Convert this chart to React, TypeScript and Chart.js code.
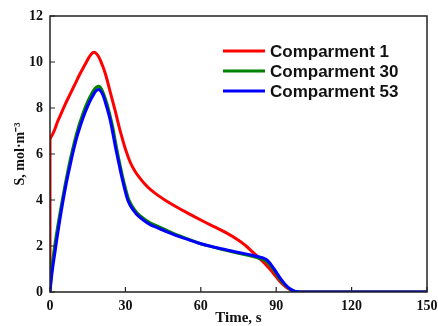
import React, { useEffect, useRef } from "react";
import { Chart, registerables } from "chart.js";

Chart.register(...registerables);

// ---- Data ----
const xTicks = [0, 30, 60, 90, 120, 150];
const yTicks = [0, 2, 4, 6, 8, 10, 12];

const seriesLabels = ["Comparment 1", "Comparment 30", "Comparment 53"];
const seriesColors = ["#ff0000", "#008000", "#0000ff"];

const tRed = [0, 0, 1, 2, 3, 4, 6, 8, 10, 12, 14, 15.5, 16.5, 17.5, 18.5, 19.5, 20.5, 22, 24, 26, 28, 30, 32, 34, 36, 38, 40, 43, 46, 50, 55, 60, 65, 70, 75, 78, 80, 82, 84, 86, 88, 90, 92, 94, 96, 98, 100, 125, 150];
const sRed = [0, 6.6, 6.85, 7.1, 7.4, 7.65, 8.15, 8.6, 9.05, 9.5, 9.9, 10.2, 10.35, 10.42, 10.36, 10.2, 9.95, 9.5, 8.68, 7.85, 6.97, 6.22, 5.62, 5.22, 4.92, 4.66, 4.45, 4.2, 3.98, 3.72, 3.42, 3.13, 2.85, 2.58, 2.25, 2.0, 1.8, 1.6, 1.4, 1.18, 0.93, 0.66, 0.4, 0.2, 0.07, 0.01, 0, 0, 0];

const tGreen = [0, 0.5, 1, 2, 3, 4, 5, 6, 7, 8, 9, 10, 11, 12, 13, 14, 15, 16, 17, 18, 19, 20, 21, 22, 23, 24, 25, 26, 27, 28, 29, 30, 31, 32, 33, 34, 35, 37, 40, 43, 46, 50, 55, 60, 65, 70, 75, 80, 83, 85, 86.5, 88, 89.5, 91, 92.5, 94, 95.5, 97, 98.5, 100, 125, 150];
const sGreen = [0, 0.75, 1.3, 2.1, 2.8, 3.45, 4.05, 4.65, 5.2, 5.72, 6.2, 6.65, 7.05, 7.4, 7.72, 8.02, 8.28, 8.5, 8.7, 8.86, 8.94, 8.9, 8.7, 8.4, 8.05, 7.62, 7.15, 6.55, 5.98, 5.45, 4.95, 4.52, 4.12, 3.86, 3.68, 3.52, 3.4, 3.22, 3.0, 2.85, 2.7, 2.5, 2.3, 2.1, 1.95, 1.81, 1.68, 1.56, 1.47, 1.4, 1.3, 1.1, 0.88, 0.63, 0.42, 0.25, 0.12, 0.04, 0.01, 0, 0, 0];

const tBlue = [0, 0.5, 1, 2, 3, 4, 5, 6, 7, 8, 9, 10, 11, 12, 13, 14, 15, 16, 17, 18, 19, 20, 21, 22, 23, 24, 25, 26, 27, 28, 29, 30, 31, 32, 33, 34, 35, 37, 40, 43, 46, 50, 55, 60, 65, 70, 75, 80, 83, 85, 86.5, 88, 89.5, 91, 92.5, 94, 95.5, 97, 98.5, 100, 125, 150];
const sBlue = [0, 0.55, 1.0, 1.75, 2.5, 3.2, 3.85, 4.45, 5.0, 5.5, 6.0, 6.45, 6.85, 7.2, 7.52, 7.82, 8.08, 8.32, 8.52, 8.7, 8.8, 8.76, 8.58, 8.25, 7.88, 7.45, 6.9, 6.32, 5.8, 5.28, 4.8, 4.35, 3.98, 3.75, 3.58, 3.44, 3.32, 3.14, 2.92, 2.78, 2.64, 2.46, 2.28, 2.1, 1.96, 1.84, 1.72, 1.61, 1.53, 1.47, 1.38, 1.18, 0.95, 0.7, 0.47, 0.28, 0.14, 0.05, 0.01, 0, 0, 0];

const seriesT = [tRed, tGreen, tBlue];
const seriesS = [sRed, sGreen, sBlue];
const drawOrder = [2, 1, 0]; // blue on top

const boxAndTicks = {
  id: "boxAndTicks",
  afterDatasetsDraw(chart: any) {
    const { ctx, chartArea: a, scales } = chart;
    ctx.save();
    ctx.strokeStyle = "#222";
    ctx.lineWidth = 1.5;
    ctx.strokeRect(a.left, a.top, a.right - a.left, a.bottom - a.top);
    ctx.lineWidth = 1.2;
    ctx.beginPath();
    for (const v of xTicks) {
      const px = scales.x.getPixelForValue(v);
      ctx.moveTo(px, a.bottom);
      ctx.lineTo(px, a.bottom - 5);
    }
    for (const v of yTicks) {
      const py = scales.y.getPixelForValue(v);
      ctx.moveTo(a.left, py);
      ctx.lineTo(a.left + 5, py);
    }
    ctx.stroke();
    ctx.restore();
  },
};

const insideLegend = {
  id: "insideLegend",
  afterDraw(chart: any) {
    const { ctx } = chart;
    ctx.save();
    const x0 = 223;
    const x1 = 265;
    const ys = [51, 71, 91];
    chart.data.datasets.forEach((ds: any, i: number) => {
      ctx.strokeStyle = ds.borderColor;
      ctx.lineWidth = 3;
      ctx.beginPath();
      ctx.moveTo(x0, ys[i]);
      ctx.lineTo(x1, ys[i]);
      ctx.stroke();
      ctx.fillStyle = "#111";
      ctx.font = "bold 17px 'Liberation Sans', Arial, sans-serif";
      ctx.textBaseline = "middle";
      ctx.textAlign = "left";
      ctx.fillText(ds.label, 270, ys[i] + 1);
    });
    ctx.restore();
  },
};

export default function App() {
  const ref = useRef<HTMLCanvasElement>(null);
  useEffect(() => {
    if (!ref.current) return;
    const datasets = seriesLabels.map((label, i) => ({
      label,
      data: seriesT[i].map((t, j) => ({ x: t, y: seriesS[i][j] })),
      borderColor: seriesColors[i],
      backgroundColor: seriesColors[i],
      borderWidth: 3,
      pointRadius: 0,
      tension: 0.4,
      order: drawOrder[i],
    }));
    const tickFont = { family: "'Liberation Serif', 'Times New Roman', serif", size: 14, weight: "bold" as const };
    const chart = new Chart(ref.current, {
      type: "line",
      data: { datasets },
      options: {
        responsive: false,
        animation: false,
        layout: { padding: { left: 12, right: 11, top: 16, bottom: 0 } },
        plugins: { legend: { display: false }, tooltip: { enabled: false } },
        scales: {
          x: {
            type: "linear",
            min: 0,
            max: 150,
            afterBuildTicks: (s: any) => { s.ticks = xTicks.map((v) => ({ value: v })); },
            afterFit: (s: any) => { s.height = 34; s.paddingRight = 0; s.paddingLeft = 0; },
            grid: { display: false, drawTicks: false },
            border: { display: false },
            ticks: { color: "#111", font: tickFont, padding: 6, maxRotation: 0 },
            title: { display: true, text: "Time, s", color: "#111", font: { ...tickFont, size: 15, lineHeight: 1 }, padding: 0 },
          },
          y: {
            type: "linear",
            min: 0,
            max: 12,
            afterBuildTicks: (s: any) => { s.ticks = yTicks.map((v) => ({ value: v })); },
            afterFit: (s: any) => { s.width = 38; s.paddingTop = 0; s.paddingBottom = 0; },
            grid: { display: false, drawTicks: false },
            border: { display: false },
            ticks: { color: "#111", font: tickFont, padding: 7 },
            title: { display: true, text: "S, mol·m⁻³", color: "#111", font: { ...tickFont, size: 14 }, padding: 0 },
          },
        },
      },
      plugins: [boxAndTicks, insideLegend],
    });
    return () => chart.destroy();
  }, []);
  return (
    <div style={{ position: "absolute", left: 0, top: 0, width: 438, height: 326, background: "#fff" }}>
      <canvas ref={ref} width={438} height={326} />
    </div>
  );
}
